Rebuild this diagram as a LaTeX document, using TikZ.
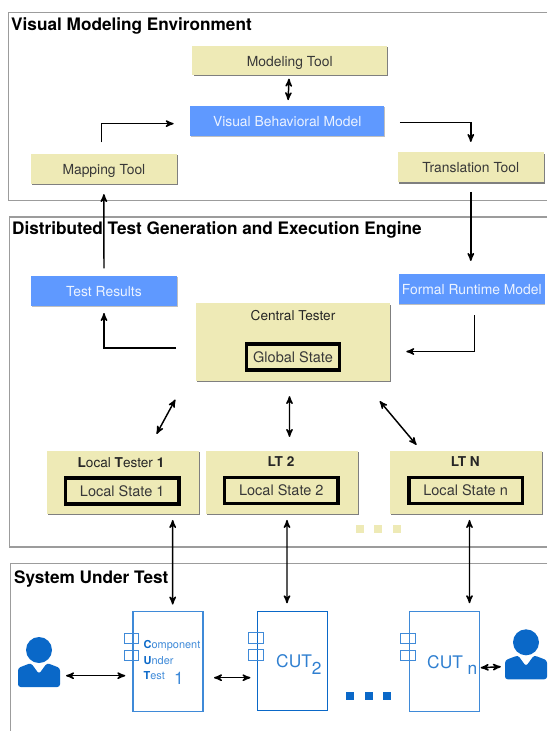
\documentclass[tikz,border=0pt]{standalone}
\usepackage{fontspec}
\setmainfont{TeX Gyre Heros}
\usetikzlibrary{arrows,shadows}

\definecolor{toolyellow}{HTML}{EEEAB6}
\definecolor{modelblue}{HTML}{5F99FF}
\definecolor{cutblue}{HTML}{0A68C8}
\definecolor{cutlight}{HTML}{3F8AD8}
\definecolor{framegray}{HTML}{9C9C9C}

\begin{document}
\begin{tikzpicture}[x=0.75pt,y=-0.75pt,>=stealth',line width=1.1pt,
    frame/.style={draw=framegray,line width=0.9pt},
    title/.style={anchor=west,inner sep=0pt,text height=8.8pt,text depth=0pt,font=\fontsize{12.9}{14}\selectfont\bfseries},
    tool/.style={fill=toolyellow,inner sep=0pt,text height=8.4pt,text depth=0pt,text=black!78,font=\fontsize{10.4}{12}\selectfont,
                 drop shadow={shadow xshift=0.8pt,shadow yshift=-1pt,fill=black,opacity=0.5}},
    model/.style={fill=modelblue,inner sep=0pt,text height=8.6pt,text depth=0pt,text=white!88!modelblue,font=\fontsize{10.4}{12}\selectfont,
                  drop shadow={shadow xshift=0.5pt,shadow yshift=-0.7pt,fill=black,opacity=0.25}},
    state/.style={draw=black,line width=2.6pt,inner sep=0pt,text height=8.4pt,text depth=0pt,text=black!78,font=\fontsize{10.9}{12}\selectfont},
    label/.style={inner sep=0pt,text height=7.2pt,text depth=0pt,text=black!85,font=\fontsize{10.2}{12}\selectfont},
    cut/.style={draw=cutlight,line width=0.9pt,inner sep=0pt,minimum width=52.5pt,minimum height=74.5pt},
    port/.style={draw=cutblue,line width=0.8pt,inner sep=0pt,minimum width=10.7pt,minimum height=8pt},
    cuttext/.style={anchor=west,inner sep=0pt,text=cutlight,font=\fontsize{8.2}{9}\selectfont},
    cutname/.style={anchor=west,inner sep=0pt,text=cutblue!85!white,font=\fontsize{13}{15}\selectfont},
    dot/.style={inner sep=0pt,minimum size=6pt},
    person/.pic={
      \fill[cutblue] (0,0) circle (13);
      \fill[cutblue,rounded corners=2pt] (-21,25) -- (-21,18) -- (-8,13) -- (0,24) -- (8,13) -- (21,18) -- (21,37) -- (-21,37) -- cycle;
      \node[inner sep=0pt,minimum width=31.5pt,minimum height=18pt] (-body) at (0,25) {};
    }]

  \useasboundingbox (0,0) rectangle (547,731);

  \draw[frame] (547,12.3) -- (8.4,12.3) -- (8.4,200.7) -- (547,200.7);
  \draw[frame] (547,217) -- (9.4,217) -- (9.4,547) -- (547,547);
  \draw[frame] (547,563.3) -- (10.8,563.3) -- (10.8,731);

  \node[title] (vmetitle)  at (10.5,25)  {Visual Modeling Environment};
  \node[title] (enginetitle) at (11.5,229) {Distributed Test Generation and Execution Engine};
  \node[title] (suttitle)  at (13.3,577.3) {System Under Test};

  \node[tool,minimum width=146pt,minimum height=21.7pt]  (modeling)    at (289.8,60.5)  {Modeling Tool};
  \node[model,minimum width=145.8pt,minimum height=22.5pt] (behavioral) at (287.2,121)   {Visual Behavioral Model};
  \node[tool,minimum width=109.7pt,minimum height=22.5pt]  (mapping)     at (103.9,169)   {Mapping Tool};
  \node[tool,minimum width=109.8pt,minimum height=22.5pt]  (translation) at (470.8,167.3) {Translation Tool};

  \node[model,minimum width=109.5pt,minimum height=22.5pt] (results) at (104,291)     {Test Results};
  \node[model,minimum width=109.6pt,minimum height=22.5pt,font=\fontsize{10.4}{12}\selectfont] (formal)  at (471.75,288.7) {Formal Runtime Model};

  \node[tool,minimum width=145.7pt,minimum height=58.3pt] (central) at (292.85,342.2) {};
  \node[label] (centraltitle) at (293,315.3) {Central Tester};
  \node[state,minimum width=69.7pt,minimum height=19.5pt] (globalstate) at (293,357.2) {Global State};

  \node[tool,minimum width=113.9pt,minimum height=47pt] (lt1) at (122.6,482.3) {};
  \node[tool,minimum width=113.8pt,minimum height=47pt] (lt2) at (281.65,482.3) {};
  \node[tool,minimum width=114.1pt,minimum height=47pt] (ltn) at (465.65,482.3) {};
  \node[label] (lt1title) at (121,462.3)   {\textbf{L}ocal \textbf{T}ester \textbf{1}};
  \node[label] (lt2title) at (281,461.3)   {\textbf{LT 2}};
  \node[label] (ltntitle) at (465.3,461.3) {\textbf{LT N}};
  \node[state,minimum width=85.3pt,minimum height=19.5pt] (state1) at (122.2,490.8) {Local State 1};
  \node[state,minimum width=85.3pt,minimum height=19.5pt] (state2) at (281.3,490.3) {Local State 2};
  \node[state,minimum width=85.1pt,minimum height=19.5pt] (staten) at (465.6,490.3) {Local State n};

  \node[dot,fill=toolyellow] (ydot1) at (359.8,528.8) {};
  \node[dot,fill=toolyellow] (ydot2) at (378.3,528.8) {};
  \node[dot,fill=toolyellow] (ydot3) at (396.8,528.8) {};

  \node[cut] (cut1) at (167.9,661.5)  {};
  \node[cut,draw=cutblue] (cut2) at (292.65,660.85) {};
  \node[cut] (cutn) at (444.5,661.5)  {};

  \node[port,draw=cutlight] (port1a) at (131.3,638.5) {};
  \node[port,draw=cutlight] (port1b) at (131.3,655.5) {};
  \node[port,draw=cutlight] (port2a) at (256,637.8) {};
  \node[port,draw=cutlight] (port2b) at (256,654.7) {};
  \node[port,draw=cutlight] (portna) at (407.9,638.5) {};
  \node[port,draw=cutlight] (portnb) at (407.9,655.5) {};

  \node[cuttext] (cuttext1) at (143,645.3) {\textcolor{cutblue}{\textbf{C}}omponent};
  \node[cuttext] (cuttext2) at (143,660.3) {\textcolor{cutblue}{\textbf{U}}nder};
  \node[cuttext] (cuttext3) at (143,675.3) {\textcolor{cutblue}{\textbf{T}}est};
  \node[cutname,text=cutlight] (cutname1) at (173.5,678) {1};
  \node[cutname] (cutname2) at (275.5,664.5) {CUT\raisebox{-5.5pt}{2}};
  \node[cutname] (cutnamen) at (426.5,665)  {CUT \raisebox{-5pt}{n}};

  \node[dot,fill=cutblue] (bdot1) at (350.4,695.8) {};
  \node[dot,fill=cutblue] (bdot2) at (368.5,695.8) {};
  \node[dot,fill=cutblue] (bdot3) at (387.2,695.8) {};

  \pic (userl) at (39,650)    {person};
  \pic (userr) at (526,642.3) {person};

  \draw[<->,shorten <=2.2pt,shorten >=3.8pt] (modeling) -- (behavioral);
  \draw[->,shorten <=8.2pt,shorten >=11.7pt] ([xshift=-1.8pt]mapping.north) |- ([yshift=-2pt]behavioral.west);
  \draw[->,shorten <=11pt,shorten >=7.2pt] ([yshift=-1.2pt]behavioral.east) -| (translation.north);
  \draw[->,shorten <=5.2pt,shorten >=7pt] (results.north) -- (mapping.south);
  \draw[->,shorten <=6.7pt,shorten >=9pt] (translation.south) -- (translation.south |- formal.north);
  \draw[->,shorten <=14.2pt,shorten >=4.7pt] ([yshift=-4.5pt]central.west) -| (results.south);
  \draw[->,shorten <=8pt,shorten >=11.7pt] ([xshift=2.2pt]formal.south) |- ([yshift=-7pt]central.east);

  \path[<->] ([shift={(-19.7,17.7)}]central.south west) edge ([shift={(34,-16.3)}]lt1.north)
             ([shift={(-3.35,14.3)}]central.south)      edge ([shift={(7.85,-13.3)}]lt2.north)
             ([shift={(-11,19.3)}]central.south east)   edge ([shift={(-49.15,-5.3)}]ltn.north)
             ([shift={(50.1,5.6)}]lt1.south)            edge ([shift={(4.8,-6.7)}]cut1.north)
             ([shift={(5.35,5.6)}]lt2.south)            edge ([shift={(-5.65,-7.3)}]cut2.north)
             ([shift={(3.85,5.6)}]ltn.south)            edge ([shift={(25,-8)}]cutn.north);

  \path[<->] ([shift={(5.3,0.7)}]userl-body.east)         edge ([shift={(-7,14.2)}]cut1.west)
             ([shift={(10.5,16.2)}]cut1.east)             edge ([shift={(-6.6,16.85)}]cut2.west)
             ([shift={(0.6,6.2)}]cutn.east)               edge ([shift={(-3.4,-0.6)}]userr-body.west);
\end{tikzpicture}
\end{document}
